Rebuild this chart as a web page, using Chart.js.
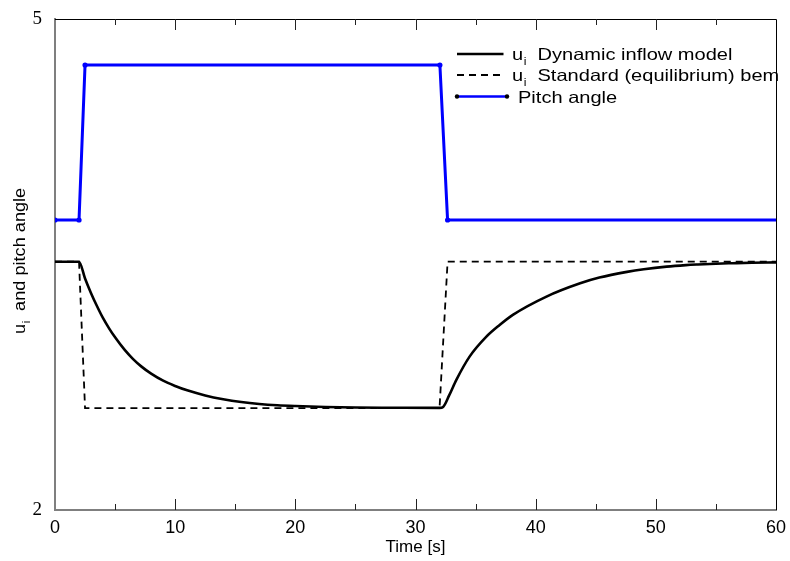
<!DOCTYPE html>
<html><head><meta charset="utf-8">
<script src="https://cdn.jsdelivr.net/npm/chart.js@4.4.1/dist/chart.umd.min.js"></script>
<style>html,body{margin:0;padding:0;background:#fff}</style>
</head><body>
<canvas id="c" width="790" height="561"></canvas>
<script>
// ---- data ----
const timeDynamic = [0, 2.0, 2.5, 3.0, 3.5, 4.0, 4.5, 5.0, 5.8, 6.5, 7.2, 8.0, 9.0, 10, 11, 12.5, 14, 15.5, 17, 18.5, 20, 22.5, 25, 28, 32,
                     32.3, 32.8, 33.4, 34.5, 35.9, 37, 38.1, 40.9, 43.7, 45.3, 47.6, 49, 50.9, 52.5, 53.5, 55, 56.4, 58, 60];
const uDynamic    = [3.517, 3.517, 3.415, 3.325, 3.245, 3.172, 3.11, 3.055, 2.978, 2.922, 2.876, 2.833, 2.79, 2.758, 2.731, 2.70, 2.677, 2.66, 2.648, 2.64, 2.635, 2.629, 2.626, 2.625, 2.624,
                     2.63, 2.70, 2.795, 2.937, 3.059, 3.13, 3.192, 3.304, 3.385, 3.42, 3.455, 3.471, 3.487, 3.496, 3.50, 3.505, 3.508, 3.511, 3.513];
const timeStandard = [0, 2.0, 2.5, 32.0, 32.67, 60];
const uStandard    = [3.517, 3.517, 2.622, 2.622, 3.517, 3.517];
const timePitch  = [0, 2.0, 2.5, 32.03, 32.67, 60];
const pitchAngle = [3.772, 3.772, 4.719, 4.719, 3.772, 3.772];
const xTickValues = [0, 10, 20, 30, 40, 50, 60];
const yTickValues = [2, 5];
const seriesLabels = ['u_i Dynamic inflow model', 'u_i Standard (equilibrium) bem', 'Pitch angle'];
const yAxisTitle = 'u_i and pitch angle';
const xAxisTitle = 'Time [s]';

const toXY = (xs, ys) => xs.map((x, i) => ({x: x, y: ys[i]}));

// draw text with "_i" single-char subscripts, stretched horizontally
function drawRich(ctx, str, x, y, size, stretch) {
  const segs = [];
  for (let i = 0; i < str.length; i++) {
    if (str[i] === '_' && i + 1 < str.length) { segs.push({t: str[i + 1], sub: true}); i++; }
    else {
      if (segs.length && !segs[segs.length - 1].sub) segs[segs.length - 1].t += str[i];
      else segs.push({t: str[i], sub: false});
    }
  }
  ctx.save();
  ctx.translate(x, y);
  ctx.scale(stretch, 1);
  let cx = 0;
  segs.forEach(s => {
    if (s.sub) {
      ctx.font = Math.round(size * 0.62) + 'px "Liberation Sans", Arial, sans-serif';
      ctx.fillText(s.t, cx + 0.5, size * 0.28);
      cx += ctx.measureText(s.t).width + 5;
    } else {
      ctx.font = size + 'px "Liberation Sans", Arial, sans-serif';
      ctx.fillText(s.t, cx, 0);
      cx += ctx.measureText(s.t).width;
    }
  });
  ctx.restore();
}

const framePlugin = {
  id: 'frame',
  afterDraw(chart) {
    const ctx = chart.ctx, a = chart.chartArea, xs = chart.scales.x;
    ctx.save();
    ctx.strokeStyle = '#000';
    ctx.lineWidth = 1;
    ctx.beginPath();
    ctx.moveTo(a.left, a.top + 0.5); ctx.lineTo(a.right + 0.5, a.top + 0.5);
    ctx.lineTo(a.right + 0.5, a.bottom);
    ctx.stroke();
    // inward ticks on bottom and top every 5 s
    ctx.strokeStyle = '#222';
    for (let v = 5; v < 60; v += 5) {
      const px = Math.round(xs.getPixelForValue(v)) + 0.5;
      const len = (v % 10 === 0) ? 11 : 6;
      ctx.beginPath();
      ctx.moveTo(px, a.bottom); ctx.lineTo(px, a.bottom - len);
      ctx.moveTo(px, a.top); ctx.lineTo(px, a.top + len);
      ctx.stroke();
    }
    ctx.restore();
  }
};

const titlePlugin = {
  id: 'ytitle',
  afterDraw(chart) {
    const ctx = chart.ctx;
    ctx.save();
    ctx.fillStyle = '#000';
    ctx.textBaseline = 'alphabetic';
    ctx.translate(25, 334);
    ctx.rotate(-Math.PI / 2);
    drawRich(ctx, yAxisTitle, 0, 0, 16.5, 1.1);
    ctx.restore();
  }
};

const legendPlugin = {
  id: 'customLegend',
  afterDraw(chart) {
    const ctx = chart.ctx;
    const rows = [54, 75, 96.5];
    chart.data.datasets.forEach((ds, i) => {
      const y = rows[i];
      const x0 = 457, x1 = (i === 2) ? 507 : 503.5;
      ctx.save();
      ctx.strokeStyle = ds.borderColor;
      ctx.lineWidth = (i === 2) ? 2.5 : ds.borderWidth;
      ctx.setLineDash(ds.borderDash || []);
      ctx.beginPath(); ctx.moveTo(x0, y); ctx.lineTo(x1, y); ctx.stroke();
      if (i === 2) {
        ctx.fillStyle = '#000';
        [x0, x1].forEach(px => { ctx.beginPath(); ctx.arc(px, y, 2.2, 0, Math.PI * 2); ctx.fill(); });
      }
      ctx.fillStyle = '#000';
      ctx.textBaseline = 'alphabetic';
      drawRich(ctx, ds.label, (i === 2) ? 518 : 512, y + 6, 16.5, 1.215);
      ctx.restore();
    });
  }
};

const noPad = s => { s.paddingTop = 0; s.paddingBottom = 0; s.paddingLeft = 0; s.paddingRight = 0; };

new Chart(document.getElementById('c'), {
  type: 'line',
  data: {
    datasets: [
      { label: seriesLabels[0], data: toXY(timeDynamic, uDynamic), borderColor: '#000', borderWidth: 2.6,
        pointRadius: 0, cubicInterpolationMode: 'monotone' },
      { label: seriesLabels[1], data: toXY(timeStandard, uStandard), borderColor: '#000', borderWidth: 1.8,
        borderDash: [7, 5], pointRadius: 0, tension: 0 },
      { label: seriesLabels[2], data: toXY(timePitch, pitchAngle), borderColor: '#0000ff', borderWidth: 3, tension: 0,
        pointRadius: c => (c.dataIndex < timePitch.length - 1 ? 2.6 : 0), pointBackgroundColor: '#0000ff', pointBorderWidth: 0 }
    ]
  },
  options: {
    responsive: false, animation: false, devicePixelRatio: 1,
    layout: { padding: { top: 19, right: 14, left: 0, bottom: 0 } },
    plugins: { legend: { display: false }, tooltip: { enabled: false } },
    scales: {
      x: {
        type: 'linear', min: 0, max: 60,
        afterBuildTicks: s => { s.ticks = xTickValues.map(v => ({value: v})); },
        afterFit: s => { s.height = 51; noPad(s); },
        grid: { drawOnChartArea: false, drawTicks: false },
        border: { color: '#7f7f7f', width: 2 },
        ticks: { font: { family: 'Liberation Sans', size: 18 }, color: '#000', padding: 7, maxRotation: 0 },
        title: { display: true, text: xAxisTitle, font: { family: 'Liberation Sans', size: 17 }, color: '#000', padding: { top: 0, bottom: 3 } }
      },
      y: {
        type: 'linear', min: 2, max: 5,
        afterBuildTicks: s => { s.ticks = yTickValues.map(v => ({value: v})); },
        afterFit: s => { s.width = 55; noPad(s); },
        grid: { drawOnChartArea: false, drawTicks: false },
        border: { color: '#7f7f7f', width: 2 },
        ticks: { font: { family: 'Liberation Serif', size: 19 }, color: '#000', padding: 13 }
      }
    }
  },
  plugins: [framePlugin, titlePlugin, legendPlugin]
});
</script>
</body></html>
